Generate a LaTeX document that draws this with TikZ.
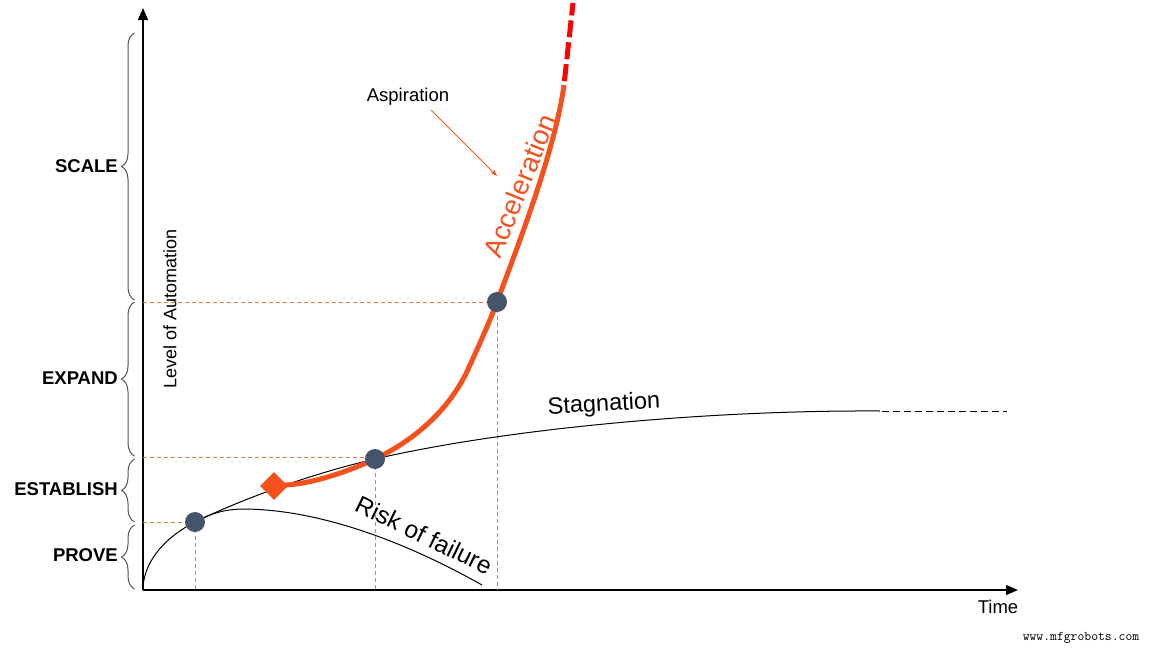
\documentclass[tikz,border=0pt]{standalone}
\usepackage{fontspec}
\setmainfont{Liberation Sans}
\usetikzlibrary{arrows.meta,decorations.pathreplacing,shapes.geometric}
\definecolor{acc}{HTML}{F4511E}
\definecolor{guide}{HTML}{E0803C}
\definecolor{dotc}{HTML}{44546A}
\definecolor{brc}{HTML}{555555}
\tikzset{
  axis/.style={line width=1.3pt,-{Triangle[length=12pt,width=10pt]}},
  guideline/.style={guide,line width=1pt,dash pattern=on 4pt off 3pt},
  dotnode/.style={circle,fill=dotc,minimum size=20pt,inner sep=0pt},
  phase/.style={font=\bfseries\fontsize{18.5}{20}\selectfont,anchor=east,inner sep=0pt},
  bracepath/.style={brc,line width=1pt,decorate,decoration={brace,amplitude=13pt}},
  curve/.style={black,line width=1pt},
  redcurve/.style={acc,line width=5pt},
  lbl/.style={inner sep=0pt}
}
\begin{document}
\begin{tikzpicture}[x=1pt,y=-1pt]
\useasboundingbox (0,0) rectangle (1152,648);
% axes
\coordinate (O) at (143,590);
\coordinate (ytop) at (143,8);
\coordinate (xend) at (1018,590);
\draw[axis] (O) -- (ytop);
\draw[axis] (O) -- (xend);
% braces
\coordinate (b1) at (134.5,33);  \coordinate (b2) at (134.5,300);
\coordinate (b3) at (134.5,302); \coordinate (b4) at (134.5,456);
\coordinate (b5) at (134.5,459); \coordinate (b6) at (134.5,522);
\coordinate (b7) at (134.5,525); \coordinate (b8) at (134.5,589);
\draw[bracepath] (b2) -- (b1);
\draw[bracepath] (b4) -- (b3);
\draw[bracepath] (b6) -- (b5);
\draw[bracepath] (b8) -- (b7);
\node[phase] (scale) at (118,166) {SCALE};
\node[phase] (expand) at (118,378) {EXPAND};
\node[phase] (establish) at (118,489) {ESTABLISH};
\node[phase] (prove) at (118,555) {PROVE};
% axis labels
\node[lbl,rotate=90,font=\fontsize{18}{20}\selectfont] (yl) at (170,309) {Level of Automation};
\node[lbl,font=\fontsize{18.5}{20}\selectfont] (time) at (998,607) {Time};
% points
\coordinate (p0) at (143,588);
\coordinate (p1) at (195,522);
\coordinate (p2) at (375,459);
\coordinate (p3) at (497,302);
\coordinate (pd) at (274,486);
\coordinate (s1) at (880,411);
\coordinate (s2) at (882,411);
\coordinate (s3) at (1007,411);
\coordinate (rpeak) at (245,509);
\coordinate (rend) at (482,585);
% guide lines
\coordinate (gy1) at (143,522); \coordinate (gx1) at (195,590);
\coordinate (gy2) at (143,457); \coordinate (gx2) at (375,590);
\coordinate (gy3) at (143,302); \coordinate (gx3) at (497,590);
\draw[guideline] (gy1) -- (p1);
\draw[guideline] (p1) -- (gx1);
\draw[guideline] (gy2) -- (375,457);
\draw[guideline] (p2) -- (gx2);
\draw[guideline] (gy3) -- (p3);
\draw[guideline] (p3) -- (gx3);
% stagnation curve
\draw[curve] (p0) .. controls (144,565) and (160,540) .. (p1)
  .. controls (240,500) and (310,474) .. (p2)
  .. controls (500,430) and (700,410) .. (s1);
\draw[curve,dash pattern=on 7pt off 4pt] (s2) -- (s3);
% risk of failure curve
\draw[curve] (p1) .. controls (213,512) and (228,509) .. (rpeak)
  .. controls (330,510) and (420,550) .. (rend);
% red acceleration curve
\coordinate (rc1) at (470,365);
\coordinate (rtop) at (564,85);
\coordinate (rdash) at (573,3);
\draw[redcurve] (285,485) .. controls (310,484) and (345,473) .. (p2)
  .. controls (425,435) and (455,400) .. (rc1)
  .. controls (480,343) and (489,323) .. (p3)
  .. controls (520,240) and (555,150) .. (rtop);
\draw[red,line width=5pt,dash pattern=on 17pt off 5pt,dash phase=18pt] (rtop) -- (rdash);
% markers
\node[diamond,fill=acc,minimum size=28pt,inner sep=0pt] (dia) at (pd) {};
\draw[redcurve] (dia.center) -- (285,485);
\node[dotnode] (d1) at (p1) {};
\node[dotnode] (d2) at (p2) {};
\node[dotnode] (d3) at (p3) {};
% labels
\node[lbl,rotate=3,font=\fontsize{23.5}{25}\selectfont] (stag) at (604,405) {Stagnation};
\node[lbl,rotate=-26,font=\fontsize{24.5}{27}\selectfont] (risk) at (424,535) {Risk of failure};
\node[lbl,rotate=68,text=acc,font=\fontsize{27.5}{30}\selectfont] (accel) at (520,186) {Acceleration};
\node[lbl,font=\fontsize{18.5}{20}\selectfont] (asp) at (408,97) {Aspiration};
\coordinate (aspend) at (497,176);
\draw[acc,line width=0.8pt,-{Stealth[length=7pt,width=5pt]}] (431,110) -- (aspend);
\node[lbl,font=\ttfamily\fontsize{13.3}{15}\selectfont] (wm) at (1081,638) {www.mfgrobots.com};
\end{tikzpicture}
\end{document}
